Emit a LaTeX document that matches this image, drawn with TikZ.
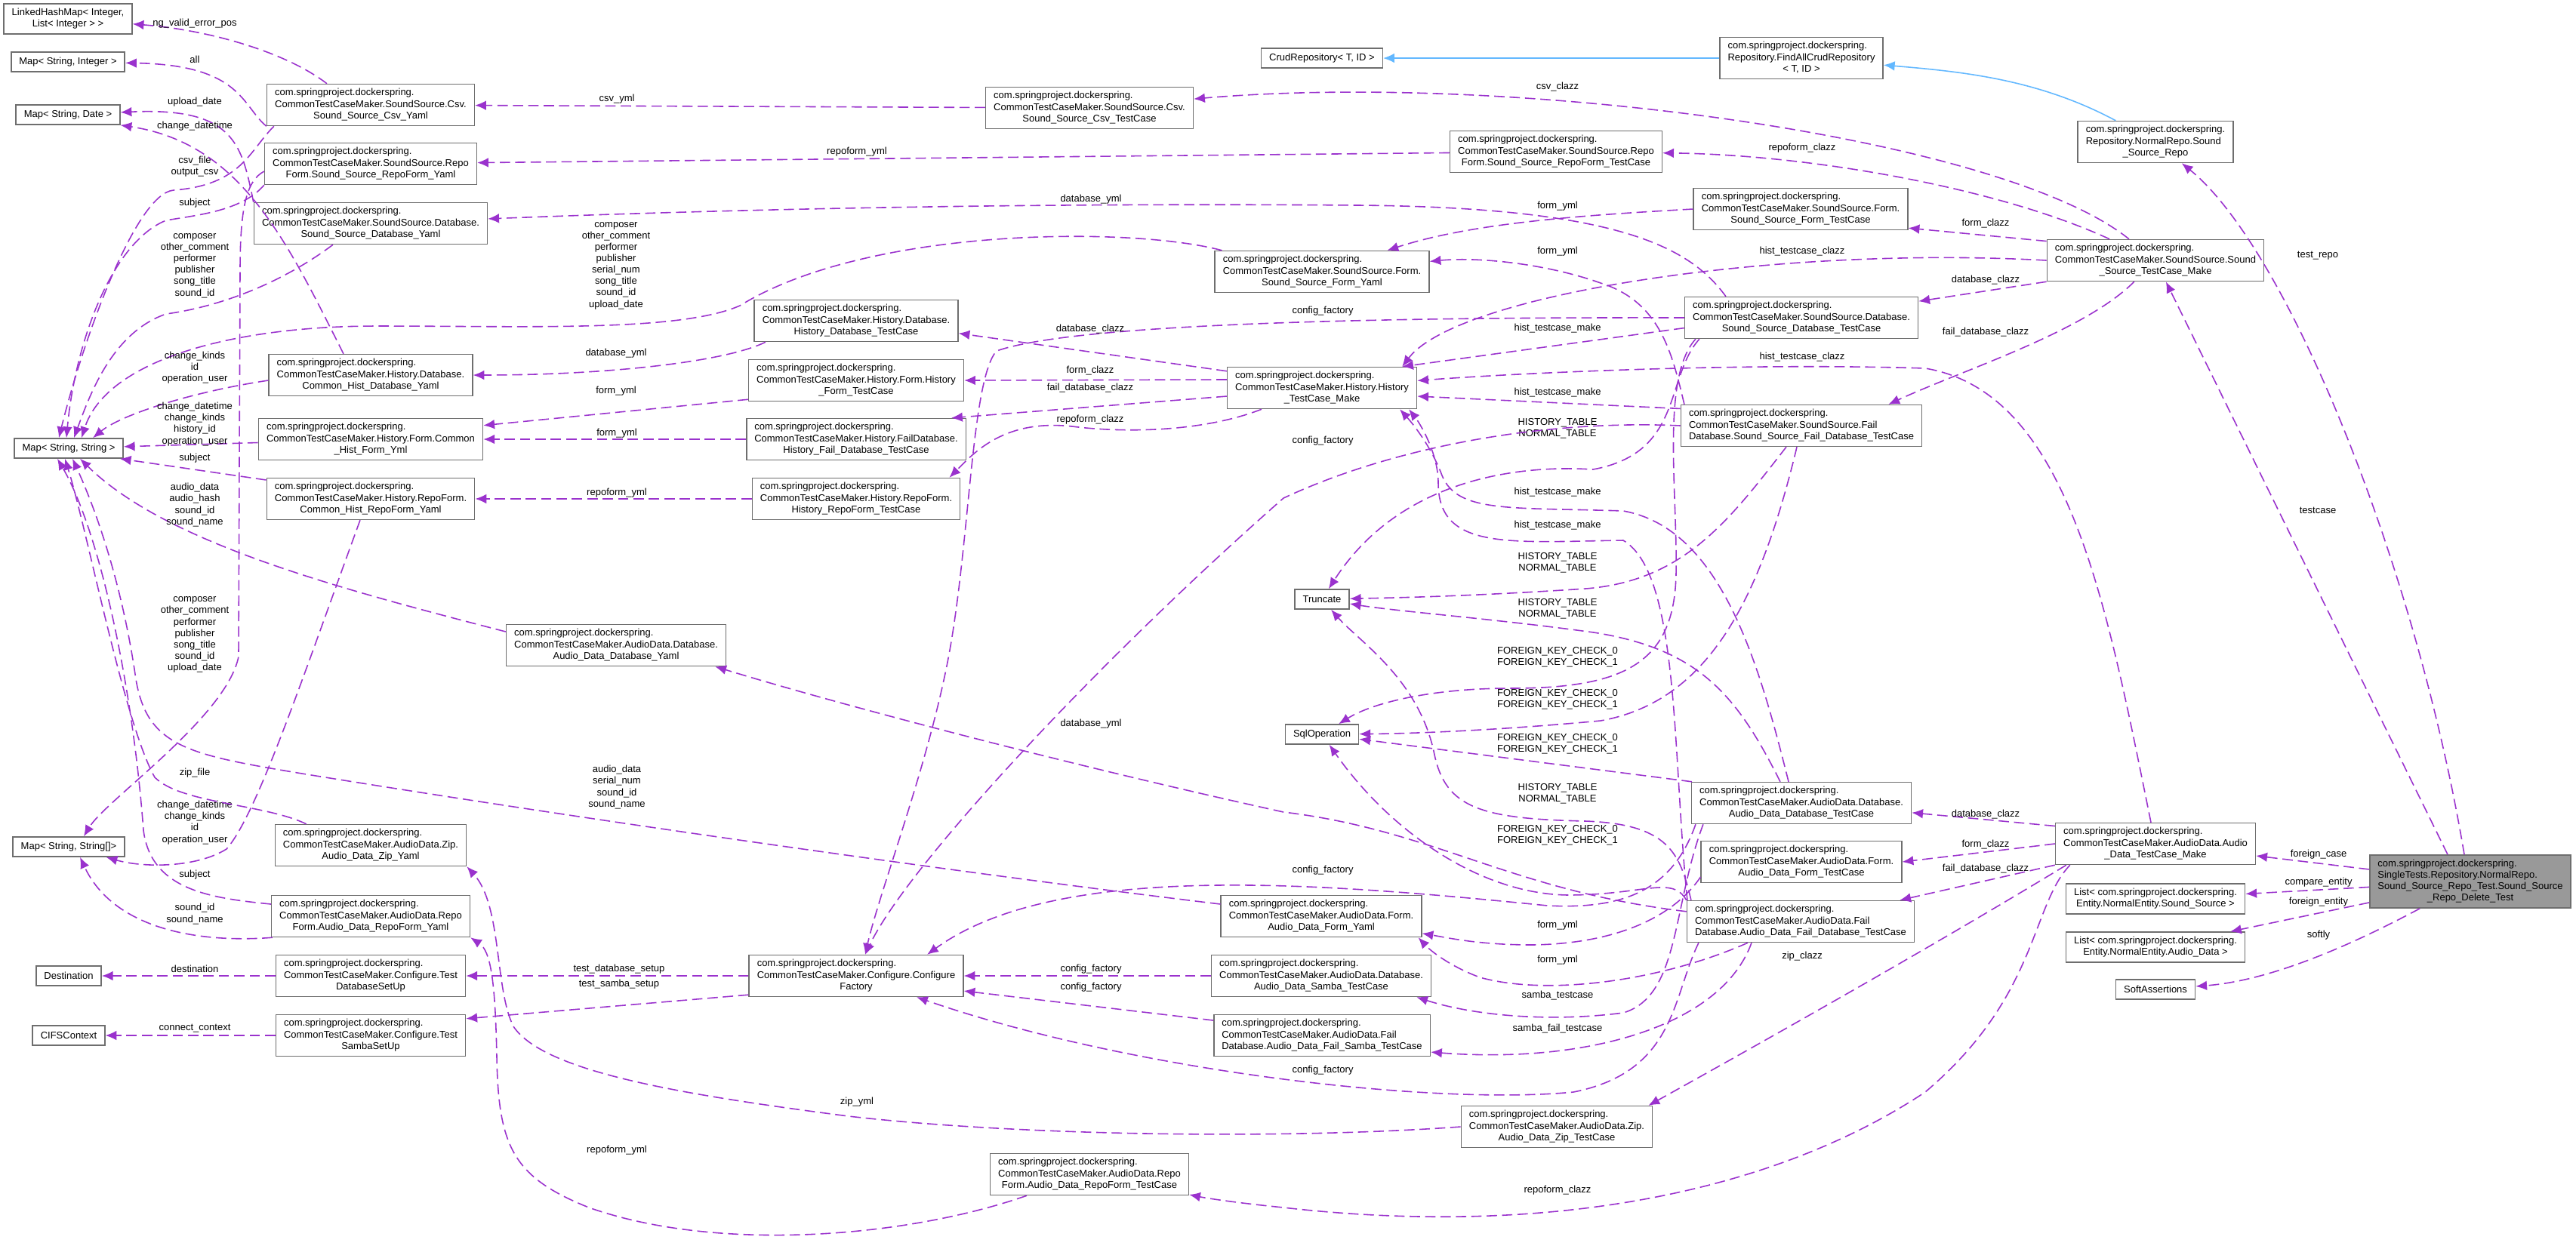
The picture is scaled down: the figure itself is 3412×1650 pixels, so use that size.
\documentclass[tikz,border=0pt]{standalone}
\usepackage{fontspec}
\setmainfont{Liberation Sans}
\usetikzlibrary{arrows.meta}
\definecolor{depcolor}{RGB}{154,50,205}
\definecolor{inhcolor}{RGB}{99,184,255}
\definecolor{boxline}{RGB}{110,110,110}
\definecolor{focusfill}{RGB}{153,153,153}
\newcommand{\dxfont}{\fontsize{3.7}{4.3}\selectfont}
\newcommand{\basepkg}{com.springproject.dockerspring.}
\newcommand{\clsname}[2]{\begin{tabular}{@{}l@{}}#1\\\multicolumn{1}{@{}c@{}}{#2}\end{tabular}}
\tikzset{
  clsbox/.style={draw=boxline, line width=0.45pt, fill=white, inner xsep=3pt, inner ysep=1.35pt, font=\dxfont},
  leafbox/.style={clsbox, minimum height=0.26cm},
  focusbox/.style={clsbox, fill=focusfill},
  dep/.style={draw=depcolor, line width=0.45pt, dash pattern=on 3.9pt off 1.9pt, -{Latex[length=4.2pt,width=3.6pt]}},
  inh/.style={draw=inhcolor, line width=0.45pt, -{Latex[length=4.2pt,width=3.6pt]}},
  elabel/.style={font=\dxfont, align=center, inner sep=0pt}
}
\begin{document}
\begin{tikzpicture}[x=0.01cm, y=-0.01cm]
\useasboundingbox (0,0) rectangle (3412,1650);

% left column
\node[clsbox] (lhm) at (90,25) {\clsname{LinkedHashMap< Integer,}{List< Integer > >}};
\node[leafbox] (mapsi) at (90,82) {Map< String, Integer >};
\node[leafbox] (mapsd) at (90,152) {Map< String, Date >};
\node[leafbox] (mapss) at (91,594) {Map< String, String >};
\node[leafbox] (mapssa) at (91,1122) {Map< String, String[]>};
\node[leafbox] (dest) at (91,1293) {Destination};
\node[leafbox] (cifs) at (91,1372) {CIFSContext};

% yaml classes
\node[clsbox] (csvyaml) at (491,139) {\clsname{\basepkg\\CommonTestCaseMaker.SoundSource.Csv.}{Sound\_Source\_Csv\_Yaml}};
\node[clsbox] (ssrepoyaml) at (491,217) {\clsname{\basepkg\\CommonTestCaseMaker.SoundSource.Repo}{Form.Sound\_Source\_RepoForm\_Yaml}};
\node[clsbox] (ssdbyaml) at (491,296) {\clsname{\basepkg\\CommonTestCaseMaker.SoundSource.Database.}{Sound\_Source\_Database\_Yaml}};
\node[clsbox] (histdbyaml) at (491,497) {\clsname{\basepkg\\CommonTestCaseMaker.History.Database.}{Common\_Hist\_Database\_Yaml}};
\node[clsbox] (histformyml) at (491,582) {\clsname{\basepkg\\CommonTestCaseMaker.History.Form.Common}{\_Hist\_Form\_Yml}};
\node[clsbox] (histrepoyaml) at (491,661) {\clsname{\basepkg\\CommonTestCaseMaker.History.RepoForm.}{Common\_Hist\_RepoForm\_Yaml}};
\node[clsbox] (addbyaml) at (816,855) {\clsname{\basepkg\\CommonTestCaseMaker.AudioData.Database.}{Audio\_Data\_Database\_Yaml}};
\node[clsbox] (adzipyaml) at (491,1120) {\clsname{\basepkg\\CommonTestCaseMaker.AudioData.Zip.}{Audio\_Data\_Zip\_Yaml}};
\node[clsbox] (adrepoyaml) at (491,1214) {\clsname{\basepkg\\CommonTestCaseMaker.AudioData.Repo}{Form.Audio\_Data\_RepoForm\_Yaml}};
\node[clsbox] (dbsetup) at (491,1293) {\clsname{\basepkg\\CommonTestCaseMaker.Configure.Test}{DatabaseSetUp}};
\node[clsbox] (sambasetup) at (491,1372) {\clsname{\basepkg\\CommonTestCaseMaker.Configure.Test}{SambaSetUp}};

% history test cases and factory
\node[clsbox] (sscsvtc) at (1443,143) {\clsname{\basepkg\\CommonTestCaseMaker.SoundSource.Csv.}{Sound\_Source\_Csv\_TestCase}};
\node[clsbox] (histdbtc) at (1134,425) {\clsname{\basepkg\\CommonTestCaseMaker.History.Database.}{History\_Database\_TestCase}};
\node[clsbox] (histformtc) at (1134,504) {\clsname{\basepkg\\CommonTestCaseMaker.History.Form.History}{\_Form\_TestCase}};
\node[clsbox] (histfailtc) at (1134,582) {\clsname{\basepkg\\CommonTestCaseMaker.History.FailDatabase.}{History\_Fail\_Database\_TestCase}};
\node[clsbox] (histrepotc) at (1134,661) {\clsname{\basepkg\\CommonTestCaseMaker.History.RepoForm.}{History\_RepoForm\_TestCase}};
\node[clsbox] (cfgfactory) at (1134,1293) {\clsname{\basepkg\\CommonTestCaseMaker.Configure.Configure}{Factory}};
\node[clsbox] (adrepotc) at (1443,1556) {\clsname{\basepkg\\CommonTestCaseMaker.AudioData.Repo}{Form.Audio\_Data\_RepoForm\_TestCase}};

% middle column
\node[leafbox] (crud) at (1751,77) {CrudRepository< T, ID >};
\node[clsbox] (ssformyaml) at (1751,360) {\clsname{\basepkg\\CommonTestCaseMaker.SoundSource.Form.}{Sound\_Source\_Form\_Yaml}};
\node[clsbox] (histmake) at (1751,514) {\clsname{\basepkg\\CommonTestCaseMaker.History.History}{\_TestCase\_Make}};
\node[leafbox] (truncate) at (1751,794) {Truncate};
\node[leafbox] (sqlop) at (1751,973) {SqlOperation};
\node[clsbox] (adformyaml) at (1750,1214) {\clsname{\basepkg\\CommonTestCaseMaker.AudioData.Form.}{Audio\_Data\_Form\_Yaml}};
\node[clsbox] (adsambatc) at (1750,1293) {\clsname{\basepkg\\CommonTestCaseMaker.AudioData.Database.}{Audio\_Data\_Samba\_TestCase}};
\node[clsbox] (adfailsambatc) at (1751,1372) {\clsname{\basepkg\\CommonTestCaseMaker.AudioData.Fail}{Database.Audio\_Data\_Fail\_Samba\_TestCase}};
\node[clsbox] (ssrepotc) at (2061,201) {\clsname{\basepkg\\CommonTestCaseMaker.SoundSource.Repo}{Form.Sound\_Source\_RepoForm\_TestCase}};
\node[clsbox] (adziptc) at (2062,1493) {\clsname{\basepkg\\CommonTestCaseMaker.AudioData.Zip.}{Audio\_Data\_Zip\_TestCase}};

% right test cases
\node[clsbox] (findall) at (2386,77) {\clsname{\basepkg\\Repository.FindAllCrudRepository}{< T, ID >}};
\node[clsbox] (ssformtc) at (2385,277) {\clsname{\basepkg\\CommonTestCaseMaker.SoundSource.Form.}{Sound\_Source\_Form\_TestCase}};
\node[clsbox] (ssdbtc) at (2386,421) {\clsname{\basepkg\\CommonTestCaseMaker.SoundSource.Database.}{Sound\_Source\_Database\_TestCase}};
\node[clsbox] (ssfailtc) at (2386,564) {\clsname{\basepkg\\CommonTestCaseMaker.SoundSource.Fail}{Database.Sound\_Source\_Fail\_Database\_TestCase}};
\node[clsbox] (addbtc) at (2386,1064) {\clsname{\basepkg\\CommonTestCaseMaker.AudioData.Database.}{Audio\_Data\_Database\_TestCase}};
\node[clsbox] (adformtc) at (2386,1142) {\clsname{\basepkg\\CommonTestCaseMaker.AudioData.Form.}{Audio\_Data\_Form\_TestCase}};
\node[clsbox] (adfailtc) at (2385,1221) {\clsname{\basepkg\\CommonTestCaseMaker.AudioData.Fail}{Database.Audio\_Data\_Fail\_Database\_TestCase}};

\node[clsbox] (ssrepo) at (2855,188) {\clsname{\basepkg\\Repository.NormalRepo.Sound}{\_Source\_Repo}};
\node[clsbox] (ssmake) at (2855,345) {\clsname{\basepkg\\CommonTestCaseMaker.SoundSource.Sound}{\_Source\_TestCase\_Make}};
\node[clsbox] (admake) at (2855,1118) {\clsname{\basepkg\\CommonTestCaseMaker.AudioData.Audio}{\_Data\_TestCase\_Make}};
\node[clsbox] (listss) at (2855,1191) {\clsname{List< \basepkg}{Entity.NormalEntity.Sound\_Source >}};
\node[clsbox] (listad) at (2855,1255) {\clsname{List< \basepkg}{Entity.NormalEntity.Audio\_Data >}};
\node[leafbox] (soft) at (2855,1311) {SoftAssertions};
\node[focusbox] (main) at (3272,1168) {\clsname{\basepkg\\SingleTests.Repository.NormalRepo.\\Sound\_Source\_Repo\_Test.Sound\_Source}{\_Repo\_Delete\_Test}};

% inheritance
\draw[inh] (findall) -- (crud);
\draw[inh] (ssrepo) .. controls (2700,105) and (2600,95) .. (findall);

% members of the test class
\draw[dep] ([xshift=-0.08cm]main.north) .. controls (3200,750) and (3030,330) .. (ssrepo) node[elabel] at (3070,339) {test\_repo};
\draw[dep] ([xshift=-0.3cm]main.north) -- (ssmake) node[elabel] at (3070,676) {testcase};
\draw[dep] (main) -- (admake) node[elabel] at (3071,1132) {foreign\_case};
\draw[dep] (main) -- (listss) node[elabel] at (3071,1169) {compare\_entity};
\draw[dep] (main) -- (listad) node[elabel] at (3071,1195) {foreign\_entity};
\draw[dep] (main) .. controls (3100,1260) and (3000,1300) .. (soft) node[elabel] at (3071,1239) {softly};

% sound source maker
\draw[dep] (ssmake) .. controls (2650,180) and (2000,95) .. (sscsvtc) node[elabel] at (2063,115) {csv\_clazz};
\draw[dep] (ssmake) .. controls (2650,250) and (2400,205) .. (ssrepotc) node[elabel] at (2387,196) {repoform\_clazz};
\draw[dep] (ssmake.170) -- (ssformtc.350) node[elabel] at (2630,296) {form\_clazz};
\draw[dep] (ssmake.south west) -- (ssdbtc.8) node[elabel] at (2630,371) {database\_clazz};
\draw[dep] (ssmake) .. controls (2760,440) and (2600,490) .. ([xshift=-0.45cm]ssfailtc.north east) node[elabel] at (2630,440) {fail\_database\_clazz};
\draw[dep] (ssmake.west) .. controls (2350,325) and (1930,390) .. ([xshift=-0.2cm]histmake.north east) node[elabel] at (2387,333) {hist\_testcase\_clazz};

\draw[dep] (sscsvtc) -- (csvyaml) node[elabel] at (817,131) {csv\_yml};
\draw[dep] (ssrepotc) -- (ssrepoyaml) node[elabel] at (1135,201) {repoform\_yml};
\draw[dep] (ssformtc.west) .. controls (2100,285) and (1950,295) .. (ssformyaml) node[elabel] at (2063,273) {form\_yml};

% sound source database test cases
\draw[dep] ([xshift=-1cm]ssdbtc.north) .. controls (2240,330) and (2150,275) .. (1800,272) .. controls (1300,268) and (900,280) .. (ssdbyaml) node[elabel] at (1445,264) {database\_yml};
\draw[dep] (ssdbtc.185) -- ([xshift=-0.2cm]histmake.north east) node[elabel] at (2063,435) {hist\_testcase\_make};
\draw[dep] (ssdbtc.west) .. controls (1800,420) and (1420,430) .. (1320,465) .. controls (1288,500) and (1285,700) .. (1260,850) .. controls (1235,1000) and (1165,1180) .. ([xshift=0.12cm]cfgfactory.north) node[elabel] at (1752,412) {config\_factory};
\draw[dep] ([xshift=-1.35cm]ssdbtc.south) .. controls (2205,500) and (2230,600) .. (2110,622) .. controls (2000,615) and (1850,640) .. (truncate) node[elabel] at (2063,568) {HISTORY\_TABLE\\NORMAL\_TABLE};
\draw[dep] ([xshift=-1.4cm]ssdbtc.south) .. controls (2200,500) and (2222,650) .. (2220,760) .. controls (2218,880) and (2150,912) .. (2000,912) .. controls (1900,912) and (1820,930) .. (sqlop) node[elabel] at (2063,871) {FOREIGN\_KEY\_CHECK\_0\\FOREIGN\_KEY\_CHECK\_1};

\draw[dep] ([xshift=-0.2cm]ssfailtc.south) .. controls (2290,690) and (2230,770) .. (2100,780) .. controls (1950,790) and (1850,792) .. (truncate) node[elabel] at (2063,746) {HISTORY\_TABLE\\NORMAL\_TABLE};
\draw[dep] ([xshift=-0.06cm]ssfailtc.south) .. controls (2330,800) and (2260,930) .. (2120,955) .. controls (1980,968) and (1870,972) .. (sqlop) node[elabel] at (2063,927) {FOREIGN\_KEY\_CHECK\_0\\FOREIGN\_KEY\_CHECK\_1};
\draw[dep] (ssfailtc.172) -- (histmake.355) node[elabel] at (2063,520) {hist\_testcase\_make};
\draw[dep] (ssfailtc.west) .. controls (2050,556) and (1850,590) .. (1700,660) .. controls (1450,880) and (1200,1150) .. ([xshift=0.12cm]cfgfactory.north) node[elabel] at (1752,584) {config\_factory};
\draw[dep] ([xshift=-1.55cm]ssfailtc.north) .. controls (2215,470) and (2200,400) .. (2120,375) .. controls (2050,350) and (1960,340) .. (ssformyaml) node[elabel] at (2063,333) {form\_yml};

% history maker
\draw[dep] (histmake.170) -- (histdbtc.353) node[elabel] at (1444,436) {database\_clazz};
\draw[dep] (histmake.175) -- (histformtc.east) node[elabel] at (1444,491) {form\_clazz};
\draw[dep] (histmake.185) -- ([xshift=-0.2cm]histfailtc.north east) node[elabel] at (1444,514) {fail\_database\_clazz};
\draw[dep] ([xshift=-0.8cm]histmake.south) .. controls (1600,570) and (1500,575) .. (1420,565) .. controls (1330,555) and (1290,600) .. ([xshift=-0.15cm]histrepotc.north east) node[elabel] at (1444,556) {repoform\_clazz};

\draw[dep] ([xshift=-1.2cm]histdbtc.south) .. controls (960,480) and (800,497) .. (histdbyaml) node[elabel] at (816,468) {database\_yml};
\draw[dep] (histformtc.190) -- (histformyml.7) node[elabel] at (816,518) {form\_yml};
\draw[dep] (histfailtc.west) -- (histformyml.east) node[elabel] at (817,574) {form\_yml};
\draw[dep] (histrepotc) -- (histrepoyaml) node[elabel] at (817,653) {repoform\_yml};

% audio data database test cases
\draw[dep] ([xshift=-0.17cm]addbtc.north) .. controls (2330,880) and (2280,700) .. (2150,677) .. controls (2000,672) and (1930,680) .. (1910,630) .. controls (1895,590) and (1870,560) .. ([xshift=1.03cm]histmake.south) node[elabel] at (2063,652) {hist\_testcase\_make};
\draw[dep] ([xshift=-1.5cm]adfailtc.north) .. controls (2215,1000) and (2225,760) .. (2150,716) .. controls (2000,718) and (1905,730) .. (1905,640) .. controls (1905,600) and (1880,560) .. ([xshift=1.15cm]histmake.south) node[elabel] at (2063,696) {hist\_testcase\_make};
\draw[dep] ([xshift=-0.28cm]addbtc.north) .. controls (2300,920) and (2250,860) .. (2111,838) .. controls (1980,820) and (1850,810) .. (truncate) node[elabel] at (2063,807) {HISTORY\_TABLE\\NORMAL\_TABLE};
\draw[dep] ([xshift=-1.45cm]addbtc.north) -- (sqlop) node[elabel] at (2063,986) {FOREIGN\_KEY\_CHECK\_0\\FOREIGN\_KEY\_CHECK\_1};
\draw[dep] ([xshift=-1.4cm]addbtc.south) .. controls (2215,1180) and (2150,1205) .. (2050,1200) .. controls (1750,1170) and (1400,1140) .. ([xshift=0.94cm]cfgfactory.north) node[elabel] at (1752,1153) {config\_factory};
\draw[dep] ([xshift=-1.3cm]addbtc.south) .. controls (2215,1200) and (2225,1320) .. (2150,1342) .. controls (2050,1355) and (1950,1345) .. ([xshift=-0.2cm]adsambatc.south east) node[elabel] at (2063,1319) {samba\_testcase};

\draw[dep] ([xshift=-1.45cm]adfailtc.north) .. controls (2225,1130) and (2210,1092) .. (2100,1088) .. controls (1960,1085) and (1915,1070) .. (1900,1000) .. controls (1880,900) and (1800,850) .. (truncate) node[elabel] at (2063,1052) {HISTORY\_TABLE\\NORMAL\_TABLE};
\draw[dep] (adfailtc.north west) .. controls (2215,1160) and (2180,1185) .. (2080,1186) .. controls (1960,1186) and (1840,1100) .. (sqlop) node[elabel] at (2063,1107) {FOREIGN\_KEY\_CHECK\_0\\FOREIGN\_KEY\_CHECK\_1};
\draw[dep] ([xshift=-0.7cm]adfailtc.south) .. controls (2200,1300) and (2050,1320) .. (1960,1295) .. controls (1920,1280) and (1895,1260) .. ([xshift=-0.05cm]adformyaml.south east) node[elabel] at (2063,1272) {form\_yml};
\draw[dep] ([xshift=-0.65cm]adfailtc.south) .. controls (2280,1360) and (2100,1410) .. ([yshift=-0.22cm]adfailsambatc.east) node[elabel] at (2063,1363) {samba\_fail\_testcase};
\draw[dep] (adfailtc.175) .. controls (2000,1180) and (1900,1100) .. (1700,1076) .. controls (1400,1010) and (1100,930) .. ([xshift=-0.15cm]addbyaml.south east) node[elabel] at (1445,959) {database\_yml};
\draw[dep] ([xshift=-1.35cm]adfailtc.south) .. controls (2215,1320) and (2220,1420) .. (2084,1447) .. controls (1900,1465) and (1500,1420) .. ([xshift=0.8cm]cfgfactory.south) node[elabel] at (1752,1418) {config\_factory};
\draw[dep] ([yshift=-0.2cm]adformtc.west) .. controls (2220,1210) and (2150,1250) .. (2030,1252) .. controls (1960,1252) and (1920,1243) .. (adformyaml) node[elabel] at (2063,1226) {form\_yml};

% audio data maker
\draw[dep] (admake.170) -- (addbtc.355) node[elabel] at (2630,1079) {database\_clazz};
\draw[dep] (admake.west) -- (adformtc.east) node[elabel] at (2630,1119) {form\_clazz};
\draw[dep] (admake.south west) -- ([xshift=-0.2cm]adfailtc.north east) node[elabel] at (2630,1151) {fail\_database\_clazz};
\draw[dep] ([xshift=0.15cm]admake.south west) .. controls (2550,1260) and (2300,1400) .. ([xshift=-0.06cm]adziptc.north east) node[elabel] at (2387,1267) {zip\_clazz};
\draw[dep] ([xshift=0.2cm]admake.south west) .. controls (2690,1200) and (2700,1320) .. (2550,1447) .. controls (2350,1580) and (2050,1640) .. (1700,1600) .. controls (1640,1594) and (1600,1588) .. (adrepotc) node[elabel] at (2063,1577) {repoform\_clazz};
\draw[dep] ([xshift=-0.06cm]admake.north) .. controls (2790,800) and (2740,520) .. (2550,488) .. controls (2300,480) and (2000,495) .. (histmake) node[elabel] at (2387,473) {hist\_testcase\_clazz};

\draw[dep] (adziptc.west) .. controls (1700,1510) and (1350,1505) .. (1124,1479) .. controls (900,1450) and (720,1420) .. (680,1360) .. controls (655,1310) and (665,1200) .. (adzipyaml.south east) node[elabel] at (1135,1460) {zip\_yml};
\draw[dep] ([xshift=-0.83cm]adrepotc.south) .. controls (1200,1640) and (950,1660) .. (780,1600) .. controls (680,1560) and (660,1520) .. (658,1400) .. controls (656,1300) and (650,1260) .. (adrepoyaml.south east) node[elabel] at (817,1524) {repoform\_yml};

% configure factory
\draw[dep] (cfgfactory) -- (dbsetup) node[elabel] at (820,1284) {test\_database\_setup};
\draw[dep] (cfgfactory.190) -- (sambasetup.10) node[elabel] at (820,1304) {test\_samba\_setup};
\draw[dep] (adsambatc) -- (cfgfactory) node[elabel] at (1445,1284) {config\_factory};
\draw[dep] ([yshift=0.2cm]adfailsambatc.west) -- ([yshift=-0.2cm]cfgfactory.east) node[elabel] at (1445,1308) {config\_factory};
\draw[dep] (dbsetup) -- (dest) node[elabel] at (258,1284) {destination};
\draw[dep] (sambasetup) -- (cifs) node[elabel] at (258,1363) {connect\_context};

% yaml members
\draw[dep] ([xshift=-0.58cm]csvyaml.north) .. controls (380,70) and (280,40) .. (lhm) node[elabel] at (258,31) {ng\_valid\_error\_pos};
\draw[dep] (csvyaml.south west) .. controls (320,140) and (320,86) .. (mapsi) node[elabel] at (258,79) {all};
\draw[dep] ([xshift=0.1cm]csvyaml.south west) .. controls (330,200) and (320,245) .. (230,252) .. controls (180,256) and (110,450) .. ([xshift=-0.13cm]mapss.north) node[elabel] at (258,221) {csv\_file\\output\_csv};
\draw[dep] (ssrepoyaml.south west) .. controls (320,280) and (260,285) .. (220,292) .. controls (150,320) and (100,450) .. ([xshift=-0.03cm]mapss.north) node[elabel] at (258,269) {subject};
\draw[dep] ([yshift=-0.1cm]ssrepoyaml.west) .. controls (325,240) and (318,280) .. (318,360) -- (316,870) .. controls (300,950) and (140,1060) .. ([xshift=0.2cm]mapssa.north) node[elabel] at (258,841) {composer\\other\_comment\\performer\\publisher\\song\_title\\sound\_id\\upload\_date};
\draw[dep] ([xshift=-0.5cm]ssdbyaml.south) .. controls (380,370) and (300,405) .. (220,416) .. controls (150,440) and (120,520) .. ([xshift=0.07cm]mapss.north) node[elabel] at (258,352) {composer\\other\_comment\\performer\\publisher\\song\_title\\sound\_id};
\draw[dep] (ssdbyaml.north west) .. controls (320,190) and (310,142) .. (mapsd) node[elabel] at (258,135) {upload\_date};
\draw[dep] ([xshift=-0.36cm]histdbyaml.north) .. controls (380,320) and (320,190) .. (mapsd.south east) node[elabel] at (258,167) {change\_datetime};
\draw[dep] ([xshift=0.1cm]ssformyaml.north west) .. controls (1500,300) and (1150,300) .. (980,405) .. controls (900,440) and (700,432) .. (500,432) .. controls (300,432) and (140,480) .. ([xshift=0.17cm]mapss.north) node[elabel] at (816,352) {composer\\other\_comment\\performer\\publisher\\serial\_num\\song\_title\\sound\_id\\upload\_date};
\draw[dep] ([yshift=-0.07cm]histdbyaml.west) .. controls (250,520) and (160,550) .. ([xshift=0.32cm]mapss.north) node[elabel] at (258,487) {change\_kinds\\id\\operation\_user};
\draw[dep] (histformyml) -- (mapss) node[elabel] at (258,562) {change\_datetime\\change\_kinds\\history\_id\\operation\_user};
\draw[dep] ([yshift=0.25cm]histrepoyaml.west) -- ([xshift=-0.05cm]mapss.south east) node[elabel] at (258,607) {subject};
\draw[dep] ([xshift=-0.14cm]histrepoyaml.south) .. controls (400,900) and (340,1080) .. (300,1125) .. controls (260,1150) and (190,1150) .. ([xshift=-0.25cm]mapssa.south east) node[elabel] at (258,1090) {change\_datetime\\change\_kinds\\id\\operation\_user};
\draw[dep] ([yshift=0.18cm]addbyaml.west) .. controls (450,780) and (220,720) .. ([xshift=0.15cm]mapss.south) node[elabel] at (258,669) {audio\_data\\audio\_hash\\sound\_id\\sound\_name};
\draw[dep] ([yshift=0.16cm]adformyaml.west) .. controls (1300,1160) and (800,1090) .. (400,1025) .. controls (250,1000) and (195,990) .. (180,900) .. controls (160,760) and (120,660) .. ([xshift=0.05cm]mapss.south) node[elabel] at (817,1043) {audio\_data\\serial\_num\\sound\_id\\sound\_name};
\draw[dep] ([xshift=0.42cm]adzipyaml.north west) .. controls (350,1065) and (240,1065) .. (205,1030) .. controls (165,960) and (115,700) .. ([xshift=-0.05cm]mapss.south) node[elabel] at (258,1024) {zip\_file};
\draw[dep] ([yshift=0.16cm]adrepoyaml.west) .. controls (280,1190) and (200,1180) .. (190,1100) .. controls (175,900) and (130,700) .. ([xshift=-0.15cm]mapss.south) node[elabel] at (258,1159) {subject};
\draw[dep] ([xshift=0.02cm]adrepoyaml.south west) .. controls (260,1250) and (150,1230) .. ([xshift=0.15cm]mapssa.south) node[elabel] at (258,1211) {sound\_id\\sound\_name};
\end{tikzpicture}
\end{document}
